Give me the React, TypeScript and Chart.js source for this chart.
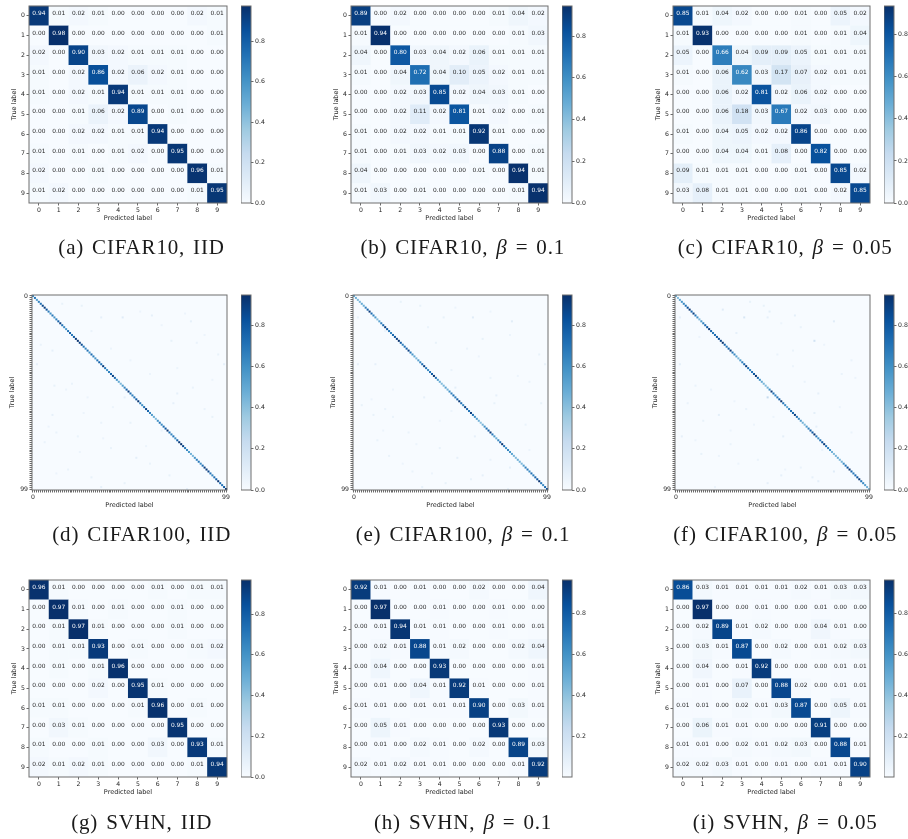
import React, { useEffect, useRef } from "react";
import { Chart, registerables } from "chart.js";

Chart.register(...registerables);

const LABELS_10 = ["0", "1", "2", "3", "4", "5", "6", "7", "8", "9"];
const LABELS_100 = Array.from({ length: 100 }, (_, i) => String(i));
const BAR_TICKS = [0, 0.2, 0.4, 0.6, 0.8];
const BLUES = ["#f7fbff", "#deebf7", "#c6dbef", "#9ecae1", "#6baed6", "#4292c6", "#2171b5", "#08519c", "#08306b"];

const CIFAR10_IID = [
  [0.94, 0.01, 0.02, 0.01, 0.0, 0.0, 0.0, 0.0, 0.02, 0.01],
  [0.0, 0.98, 0.0, 0.0, 0.0, 0.0, 0.0, 0.0, 0.0, 0.01],
  [0.02, 0.0, 0.9, 0.03, 0.02, 0.01, 0.01, 0.01, 0.0, 0.0],
  [0.01, 0.0, 0.02, 0.86, 0.02, 0.06, 0.02, 0.01, 0.0, 0.0],
  [0.01, 0.0, 0.02, 0.01, 0.94, 0.01, 0.01, 0.01, 0.0, 0.0],
  [0.0, 0.0, 0.01, 0.06, 0.02, 0.89, 0.0, 0.01, 0.0, 0.0],
  [0.0, 0.0, 0.02, 0.02, 0.01, 0.01, 0.94, 0.0, 0.0, 0.0],
  [0.01, 0.0, 0.01, 0.0, 0.01, 0.02, 0.0, 0.95, 0.0, 0.0],
  [0.02, 0.0, 0.0, 0.01, 0.0, 0.0, 0.0, 0.0, 0.96, 0.01],
  [0.01, 0.02, 0.0, 0.0, 0.0, 0.0, 0.0, 0.0, 0.01, 0.95],
];
const CIFAR10_B01 = [
  [0.89, 0.0, 0.02, 0.0, 0.0, 0.0, 0.0, 0.01, 0.04, 0.02],
  [0.01, 0.94, 0.0, 0.0, 0.0, 0.0, 0.0, 0.0, 0.01, 0.03],
  [0.04, 0.0, 0.8, 0.03, 0.04, 0.02, 0.06, 0.01, 0.01, 0.01],
  [0.01, 0.0, 0.04, 0.72, 0.04, 0.1, 0.05, 0.02, 0.01, 0.01],
  [0.0, 0.0, 0.02, 0.03, 0.85, 0.02, 0.04, 0.03, 0.01, 0.0],
  [0.0, 0.0, 0.02, 0.11, 0.02, 0.81, 0.01, 0.02, 0.0, 0.01],
  [0.01, 0.0, 0.02, 0.02, 0.01, 0.01, 0.92, 0.01, 0.0, 0.0],
  [0.01, 0.0, 0.01, 0.03, 0.02, 0.03, 0.0, 0.88, 0.0, 0.01],
  [0.04, 0.0, 0.0, 0.0, 0.0, 0.0, 0.01, 0.0, 0.94, 0.01],
  [0.01, 0.03, 0.0, 0.01, 0.0, 0.0, 0.0, 0.0, 0.01, 0.94],
];
const CIFAR10_B005 = [
  [0.85, 0.01, 0.04, 0.02, 0.0, 0.0, 0.01, 0.0, 0.05, 0.02],
  [0.01, 0.93, 0.0, 0.0, 0.0, 0.0, 0.01, 0.0, 0.01, 0.04],
  [0.05, 0.0, 0.66, 0.04, 0.09, 0.09, 0.05, 0.01, 0.01, 0.01],
  [0.01, 0.0, 0.06, 0.62, 0.03, 0.17, 0.07, 0.02, 0.01, 0.01],
  [0.0, 0.0, 0.06, 0.02, 0.81, 0.02, 0.06, 0.02, 0.0, 0.0],
  [0.0, 0.0, 0.06, 0.18, 0.03, 0.67, 0.02, 0.03, 0.0, 0.0],
  [0.01, 0.0, 0.04, 0.05, 0.02, 0.02, 0.86, 0.0, 0.0, 0.0],
  [0.0, 0.0, 0.04, 0.04, 0.01, 0.08, 0.0, 0.82, 0.0, 0.0],
  [0.09, 0.01, 0.01, 0.01, 0.0, 0.0, 0.01, 0.0, 0.85, 0.02],
  [0.03, 0.08, 0.01, 0.01, 0.0, 0.0, 0.01, 0.0, 0.02, 0.85],
];
const SVHN_IID = [
  [0.96, 0.01, 0.0, 0.0, 0.0, 0.0, 0.01, 0.0, 0.01, 0.01],
  [0.0, 0.97, 0.01, 0.0, 0.01, 0.0, 0.0, 0.01, 0.0, 0.0],
  [0.0, 0.01, 0.97, 0.01, 0.0, 0.0, 0.0, 0.01, 0.0, 0.0],
  [0.0, 0.01, 0.01, 0.93, 0.0, 0.01, 0.0, 0.0, 0.01, 0.02],
  [0.0, 0.01, 0.0, 0.01, 0.96, 0.0, 0.0, 0.0, 0.0, 0.0],
  [0.0, 0.0, 0.0, 0.02, 0.0, 0.95, 0.01, 0.0, 0.0, 0.0],
  [0.01, 0.01, 0.0, 0.0, 0.0, 0.01, 0.96, 0.0, 0.01, 0.0],
  [0.0, 0.03, 0.01, 0.0, 0.0, 0.0, 0.0, 0.95, 0.0, 0.0],
  [0.01, 0.0, 0.0, 0.01, 0.0, 0.0, 0.03, 0.0, 0.93, 0.01],
  [0.02, 0.01, 0.02, 0.01, 0.0, 0.0, 0.0, 0.0, 0.01, 0.94],
];
const SVHN_B01 = [
  [0.92, 0.01, 0.0, 0.01, 0.0, 0.0, 0.02, 0.0, 0.0, 0.04],
  [0.0, 0.97, 0.0, 0.0, 0.01, 0.0, 0.0, 0.01, 0.0, 0.0],
  [0.0, 0.01, 0.94, 0.01, 0.01, 0.0, 0.0, 0.01, 0.0, 0.01],
  [0.0, 0.02, 0.01, 0.88, 0.01, 0.02, 0.0, 0.0, 0.02, 0.04],
  [0.0, 0.04, 0.0, 0.0, 0.93, 0.0, 0.0, 0.0, 0.0, 0.01],
  [0.0, 0.01, 0.0, 0.04, 0.01, 0.92, 0.01, 0.0, 0.0, 0.01],
  [0.01, 0.01, 0.0, 0.01, 0.01, 0.01, 0.9, 0.0, 0.03, 0.01],
  [0.0, 0.05, 0.01, 0.0, 0.0, 0.0, 0.0, 0.93, 0.0, 0.0],
  [0.0, 0.01, 0.0, 0.02, 0.01, 0.0, 0.02, 0.0, 0.89, 0.03],
  [0.02, 0.01, 0.02, 0.01, 0.01, 0.0, 0.0, 0.0, 0.01, 0.92],
];
const SVHN_B005 = [
  [0.86, 0.03, 0.01, 0.01, 0.01, 0.01, 0.02, 0.01, 0.03, 0.03],
  [0.0, 0.97, 0.0, 0.0, 0.01, 0.0, 0.0, 0.01, 0.0, 0.0],
  [0.0, 0.02, 0.89, 0.01, 0.02, 0.0, 0.0, 0.04, 0.01, 0.0],
  [0.0, 0.03, 0.01, 0.87, 0.0, 0.02, 0.0, 0.01, 0.02, 0.03],
  [0.0, 0.04, 0.0, 0.01, 0.92, 0.0, 0.0, 0.0, 0.01, 0.01],
  [0.0, 0.01, 0.0, 0.07, 0.0, 0.88, 0.02, 0.0, 0.01, 0.01],
  [0.01, 0.01, 0.0, 0.02, 0.01, 0.03, 0.87, 0.0, 0.05, 0.01],
  [0.0, 0.06, 0.01, 0.01, 0.0, 0.0, 0.0, 0.91, 0.0, 0.0],
  [0.01, 0.01, 0.0, 0.02, 0.01, 0.02, 0.03, 0.0, 0.88, 0.01],
  [0.02, 0.02, 0.03, 0.01, 0.0, 0.01, 0.0, 0.01, 0.01, 0.9],
];

const CIFAR100_IID_DIAG = [
  0.62, 0.7, 0.55, 0.66, 0.72, 0.88, 0.9, 0.84, 0.68, 0.6,
  0.7, 0.58, 0.66, 0.78, 0.9, 0.72, 0.62, 0.56, 0.7, 0.76,
  0.68, 0.8, 0.92, 0.94, 0.9, 0.86, 0.7, 0.64, 0.72, 0.6,
  0.74, 0.66, 0.58, 0.7, 0.78, 0.72, 0.92, 0.7, 0.6, 0.66,
  0.76, 0.9, 0.74, 0.6, 0.5, 0.44, 0.56, 0.64, 0.78, 0.92,
  0.72, 0.66, 0.7, 0.8, 0.93, 0.68, 0.6, 0.72, 0.9, 0.76,
  0.64, 0.56, 0.48, 0.42, 0.6, 0.7, 0.62, 0.74, 0.82, 0.94,
  0.72, 0.64, 0.7, 0.6, 0.78, 0.92, 0.94, 0.88, 0.68, 0.62,
  0.56, 0.46, 0.44, 0.58, 0.66, 0.7, 0.62, 0.74, 0.9, 0.92,
  0.88, 0.7, 0.64, 0.72, 0.78, 0.93, 0.74, 0.7, 0.8, 0.94,
];
const CIFAR100_IID_OFF = [
  [11, 46, 0.11], [11, 35, 0.08], [5, 25, 0.07], [28, 10, 0.08], [4, 15, 0.07], [10, 61, 0.08], [13, 81, 0.08],
  [23, 71, 0.07], [35, 98, 0.08], [35, 2, 0.08], [61, 10, 0.08], [46, 11, 0.07], [50, 74, 0.08], [55, 72, 0.08],
  [52, 47, 0.08], [62, 92, 0.07], [65, 50, 0.07], [72, 23, 0.06], [83, 53, 0.09], [92, 70, 0.07], [98, 35, 0.08],
  [96, 47, 0.07], [99, 79, 0.08], [93, 30, 0.07], [75, 6, 0.06], [30, 95, 0.07], [25, 4, 0.06], [24, 84, 0.06],
  [65, 35, 0.06], [40, 60, 0.05], [18, 30, 0.06], [8, 55, 0.05], [45, 20, 0.06], [70, 12, 0.06], [78, 40, 0.06],
  [86, 60, 0.06], [58, 88, 0.06], [33, 50, 0.05], [47, 82, 0.06], [89, 18, 0.06], [69, 66, 0.06], [15, 66, 0.05],
  [48, 17, 0.05], [52, 28, 0.05], [67, 8, 0.05], [73, 36, 0.05], [80, 24, 0.05], [91, 12, 0.05], [57, 41, 0.05],
  [20, 88, 0.05], [37, 74, 0.05], [43, 92, 0.05], [9, 78, 0.05], [27, 40, 0.05], [60, 26, 0.05], [77, 58, 0.05],
];
const CIFAR100_B01_DIAG = [
  0.5, 0.46, 0.42, 0.44, 0.5, 0.48, 0.66, 0.78, 0.92, 0.74,
  0.64, 0.56, 0.42, 0.52, 0.66, 0.76, 0.9, 0.82, 0.7, 0.64,
  0.74, 0.82, 0.9, 0.94, 0.8, 0.66, 0.72, 0.78, 0.9, 0.7,
  0.58, 0.5, 0.44, 0.54, 0.64, 0.74, 0.9, 0.7, 0.62, 0.7,
  0.8, 0.94, 0.72, 0.56, 0.48, 0.42, 0.44, 0.52, 0.46, 0.6,
  0.66, 0.72, 0.68, 0.78, 0.92, 0.72, 0.64, 0.9, 0.76, 0.7,
  0.9, 0.72, 0.6, 0.54, 0.46, 0.4, 0.46, 0.6, 0.72, 0.8,
  0.92, 0.7, 0.56, 0.48, 0.62, 0.76, 0.94, 0.72, 0.6, 0.64,
  0.58, 0.52, 0.44, 0.42, 0.48, 0.46, 0.44, 0.54, 0.66, 0.7,
  0.62, 0.72, 0.66, 0.76, 0.82, 0.94, 0.7, 0.62, 0.74, 0.84,
];
const CIFAR100_B01_OFF = [
  [11, 61, 0.11], [13, 81, 0.1], [5, 34, 0.07], [11, 46, 0.07], [3, 24, 0.07], [11, 2, 0.07], [22, 66, 0.07],
  [35, 2, 0.08], [35, 11, 0.08], [30, 95, 0.07], [47, 52, 0.09], [52, 36, 0.08], [51, 73, 0.08], [55, 96, 0.07],
  [56, 4, 0.07], [61, 10, 0.07], [55, 72, 0.07], [72, 62, 0.08], [83, 53, 0.08], [92, 66, 0.08], [94, 60, 0.07],
  [98, 35, 0.08], [96, 47, 0.07], [99, 79, 0.07], [88, 80, 0.08], [35, 98, 0.07], [24, 42, 0.07], [70, 28, 0.06],
  [62, 20, 0.06], [78, 44, 0.07], [82, 18, 0.06], [42, 70, 0.06], [38, 50, 0.06], [16, 38, 0.06], [27, 58, 0.06],
  [66, 88, 0.06], [74, 12, 0.06], [90, 30, 0.06], [8, 70, 0.05], [44, 90, 0.06], [58, 16, 0.06], [84, 70, 0.06],
  [48, 20, 0.05], [53, 9, 0.05], [64, 44, 0.05], [76, 32, 0.05], [86, 25, 0.05], [69, 15, 0.05], [20, 80, 0.05],
  [31, 64, 0.05], [41, 84, 0.05], [6, 52, 0.05], [18, 16, 0.05], [59, 50, 0.05], [79, 90, 0.05], [91, 40, 0.05],
];
const CIFAR100_B005_DIAG = [
  0.48, 0.42, 0.5, 0.58, 0.64, 0.72, 0.84, 0.94, 0.76, 0.9,
  0.7, 0.6, 0.44, 0.56, 0.66, 0.74, 0.82, 0.92, 0.76, 0.68,
  0.72, 0.8, 0.84, 0.88, 0.94, 0.76, 0.68, 0.78, 0.92, 0.7,
  0.62, 0.52, 0.44, 0.56, 0.66, 0.76, 0.92, 0.72, 0.64, 0.7,
  0.82, 0.94, 0.74, 0.6, 0.5, 0.44, 0.42, 0.46, 0.62, 0.92,
  0.72, 0.66, 0.7, 0.8, 0.94, 0.7, 0.62, 0.5, 0.66, 0.72,
  0.76, 0.9, 0.72, 0.62, 0.54, 0.46, 0.42, 0.56, 0.66, 0.78,
  0.82, 0.94, 0.7, 0.6, 0.72, 0.82, 0.92, 0.72, 0.66, 0.58,
  0.46, 0.42, 0.44, 0.48, 0.44, 0.46, 0.62, 0.72, 0.84, 0.94,
  0.76, 0.68, 0.74, 0.82, 0.92, 0.7, 0.62, 0.54, 0.46, 0.42,
];
const CIFAR100_B005_OFF = [
  [23, 71, 0.18], [52, 47, 0.24], [11, 35, 0.15], [7, 24, 0.11], [8, 48, 0.09], [10, 61, 0.09], [13, 81, 0.11],
  [11, 2, 0.08], [35, 2, 0.09], [61, 22, 0.09], [60, 71, 0.09], [11, 47, 0.08], [19, 31, 0.08], [72, 55, 0.09],
  [90, 81, 0.11], [95, 73, 0.09], [92, 54, 0.08], [50, 73, 0.08], [96, 47, 0.08], [72, 3, 0.08], [81, 13, 0.07],
  [64, 14, 0.07], [5, 45, 0.07], [3, 38, 0.07], [93, 70, 0.08], [67, 72, 0.08], [28, 60, 0.06], [40, 85, 0.06],
  [46, 10, 0.06], [58, 36, 0.06], [76, 28, 0.06], [84, 42, 0.06], [70, 90, 0.06], [30, 52, 0.06], [16, 64, 0.06],
  [98, 20, 0.06], [33, 90, 0.06], [88, 64, 0.06], [44, 66, 0.06], [55, 6, 0.06], [21, 12, 0.05], [79, 75, 0.06],
  [48, 18, 0.05], [54, 30, 0.05], [66, 40, 0.05], [74, 10, 0.05], [86, 32, 0.05], [62, 50, 0.05], [25, 76, 0.05],
  [36, 60, 0.05], [42, 92, 0.05], [14, 54, 0.05], [82, 22, 0.05], [89, 56, 0.05], [57, 84, 0.05], [69, 28, 0.05],
];

type Cell = { x: string; y: string; v: number };

function matrixCells(matrix: number[][]): Cell[] {
  const cells: Cell[] = [];
  matrix.forEach((row, r) => row.forEach((v, c) => cells.push({ x: LABELS_10[c], y: LABELS_10[r], v })));
  return cells;
}
function sparseCells(diag: number[], off: number[][]): Cell[] {
  const cells: Cell[] = off.map(([r, c, v]) => ({ x: LABELS_100[c], y: LABELS_100[r], v }));
  diag.forEach((v, i) => cells.push({ x: LABELS_100[i], y: LABELS_100[i], v }));
  return cells;
}

function blues(t: number): string {
  const p = Math.max(0, Math.min(1, t)) * (BLUES.length - 1);
  const i = Math.min(BLUES.length - 2, Math.floor(p));
  const f = p - i;
  const rgb = (h: string) => [1, 3, 5].map((k) => parseInt(h.slice(k, k + 2), 16));
  const a = rgb(BLUES[i]);
  const b = rgb(BLUES[i + 1]);
  return `rgb(${a.map((u, k) => Math.round(u + (b[k] - u) * f)).join(",")})`;
}

const TEXT = "#1f1f1f";
const LINE = "#6e6e6e";
const FONT = "'DejaVu Sans'";

type PanelSpec = {
  cells: Cell[]; labels: string[]; annotate: boolean; x: number; y: number; w: number; h: number;
  axisW: number; barX: number; vmin: number; vmax: number; name: string; beta?: string; cx: number; cy: number;
};

const PANELS: PanelSpec[] = [
  { cells: matrixCells(CIFAR10_IID), labels: LABELS_10, annotate: true, x: 29, y: 6, w: 198, h: 197, axisW: 19, barX: 241, vmin: 0, vmax: 0.975, name: "(a) CIFAR10, IID", cx: 141.5, cy: 247 },
  { cells: matrixCells(CIFAR10_B01), labels: LABELS_10, annotate: true, x: 351, y: 6, w: 197, h: 197, axisW: 19, barX: 562, vmin: 0, vmax: 0.944, name: "(b) CIFAR10, ", beta: "0.1", cx: 462.7, cy: 247 },
  { cells: matrixCells(CIFAR10_B005), labels: LABELS_10, annotate: true, x: 673, y: 6, w: 197, h: 197, axisW: 19, barX: 884, vmin: 0, vmax: 0.936, name: "(c) CIFAR10, ", beta: "0.05", cx: 785.2, cy: 247 },
  { cells: sparseCells(CIFAR100_IID_DIAG, CIFAR100_IID_OFF), labels: LABELS_100, annotate: false, x: 32, y: 295, w: 195, h: 195, axisW: 24, barX: 241, vmin: 0, vmax: 0.948, name: "(d) CIFAR100, IID", cx: 141.7, cy: 534 },
  { cells: sparseCells(CIFAR100_B01_DIAG, CIFAR100_B01_OFF), labels: LABELS_100, annotate: false, x: 353, y: 295, w: 195, h: 195, axisW: 24, barX: 562, vmin: 0, vmax: 0.948, name: "(e) CIFAR100, ", beta: "0.1", cx: 463, cy: 534 },
  { cells: sparseCells(CIFAR100_B005_DIAG, CIFAR100_B005_OFF), labels: LABELS_100, annotate: false, x: 675, y: 295, w: 195, h: 195, axisW: 24, barX: 884, vmin: 0, vmax: 0.948, name: "(f) CIFAR100, ", beta: "0.05", cx: 785.2, cy: 534 },
  { cells: matrixCells(SVHN_IID), labels: LABELS_10, annotate: true, x: 29, y: 580, w: 198, h: 197, axisW: 19, barX: 241, vmin: 0, vmax: 0.968, name: "(g) SVHN, IID", cx: 141.7, cy: 821.7 },
  { cells: matrixCells(SVHN_B01), labels: LABELS_10, annotate: true, x: 351, y: 580, w: 197, h: 197, axisW: 19, barX: 562, vmin: 0.004, vmax: 0.962, name: "(h) SVHN, ", beta: "0.1", cx: 463, cy: 821.7 },
  { cells: matrixCells(SVHN_B005), labels: LABELS_10, annotate: true, x: 673, y: 580, w: 197, h: 197, axisW: 19, barX: 884, vmin: 0.004, vmax: 0.965, name: "(i) SVHN, ", beta: "0.05", cx: 785.2, cy: 821.7 },
];

const PAD_TOP = 6;
const PAD_RIGHT = 7;
const X_AXIS_H = 19;
const BAR_W = 10;
const BAR_AXIS_W = 22;

function framePlugin(): any {
  return {
    id: "frame",
    afterDatasetsDraw(chart: any) {
      const { ctx, chartArea: a } = chart;
      ctx.save();
      ctx.strokeStyle = LINE;
      ctx.lineWidth = 1;
      ctx.strokeRect(a.left, a.top, a.right - a.left, a.bottom - a.top);
      ctx.restore();
    },
  };
}

function MatrixChart({ p }: { p: PanelSpec }) {
  const ref = useRef<HTMLCanvasElement>(null);
  useEffect(() => {
    const n = p.labels.length;
    const thresh = (p.vmin + p.vmax) / 2;
    const tickCb = (_: any, i: number) => (n === 100 ? (i === 0 || i === 99 ? p.labels[i] : "") : p.labels[i]);
    const tickOpts = { autoSkip: false, maxRotation: 0, minRotation: 0, padding: 1.5, color: TEXT, font: { family: FONT, size: 6.2 }, callback: tickCb };
    const gridOpts = { display: true, drawOnChartArea: false, drawTicks: true, tickLength: 2.5, tickWidth: 0.8, tickColor: "#444" };
    const titleOpts = (text: string) => ({ display: true, text, color: TEXT, padding: 0, font: { family: FONT, size: 6.5 } });
    const chart = new Chart(ref.current as HTMLCanvasElement, {
      type: "scatter",
      data: {
        datasets: [{
          data: p.cells as any,
          pointStyle: "rect",
          borderWidth: 0,
          pointBorderWidth: 0,
          pointRadius: () => (p.w / n / Math.SQRT2) + 0.05,
          pointBackgroundColor: (c: any) => blues((c.raw.v - p.vmin) / (p.vmax - p.vmin)),
        } as any],
      },
      options: {
        animation: false,
        responsive: false,
        events: [],
        layout: { autoPadding: false, padding: { top: PAD_TOP, right: PAD_RIGHT, left: 0, bottom: 0 } },
        plugins: { legend: { display: false }, tooltip: { enabled: false } },
        scales: {
          x: {
            type: "category", labels: p.labels, offset: true, position: "bottom",
            ticks: tickOpts, grid: gridOpts, border: { display: false }, title: titleOpts("Predicted label"),
            afterFit: (s: any) => { s.height = X_AXIS_H; },
          },
          y: {
            type: "category", labels: p.labels, offset: true, position: "left",
            ticks: tickOpts, grid: gridOpts, border: { display: false }, title: titleOpts("True label"),
            afterFit: (s: any) => { s.width = p.axisW; },
          },
        },
      } as any,
      plugins: [
        {
          id: "plotBackground",
          beforeDatasetsDraw(c: any) {
            const a = c.chartArea;
            c.ctx.fillStyle = BLUES[0];
            c.ctx.fillRect(a.left, a.top, a.right - a.left, a.bottom - a.top);
          },
        },
        {
          id: "cellText",
          afterDatasetsDraw(c: any) {
            if (!p.annotate) return;
            const ctx = c.ctx;
            const pts = c.getDatasetMeta(0).data;
            ctx.save();
            ctx.font = `5.9px ${FONT}`;
            ctx.textAlign = "center";
            ctx.textBaseline = "middle";
            p.cells.forEach((cell, i) => {
              ctx.fillStyle = cell.v > thresh ? "#ffffff" : TEXT;
              ctx.fillText(cell.v.toFixed(2), pts[i].x, pts[i].y - 2.5);
            });
            ctx.restore();
          },
        },
        framePlugin(),
      ],
    });
    return () => chart.destroy();
  }, [p]);
  return (
    <canvas
      ref={ref}
      width={p.axisW + p.w + PAD_RIGHT}
      height={PAD_TOP + p.h + X_AXIS_H}
      style={{ position: "absolute", left: p.x - p.axisW, top: p.y - PAD_TOP, filter: "blur(0.45px)" }}
    />
  );
}

function ColorBar({ p }: { p: PanelSpec }) {
  const ref = useRef<HTMLCanvasElement>(null);
  useEffect(() => {
    const chart = new Chart(ref.current as HTMLCanvasElement, {
      type: "bar",
      data: {
        labels: ["scale"],
        datasets: [{
          data: [[p.vmin, p.vmax]],
          barPercentage: 1,
          categoryPercentage: 1,
          backgroundColor: (c: any) => {
            const a = c.chart.chartArea;
            if (!a) return BLUES[0];
            const g = c.chart.ctx.createLinearGradient(0, a.bottom, 0, a.top);
            BLUES.forEach((col, i) => g.addColorStop(i / (BLUES.length - 1), col));
            return g;
          },
        } as any],
      },
      options: {
        animation: false,
        responsive: false,
        events: [],
        layout: { autoPadding: false, padding: { top: PAD_TOP, bottom: PAD_TOP, left: 0, right: 0 } },
        plugins: { legend: { display: false }, tooltip: { enabled: false } },
        scales: {
          x: { type: "category", display: false },
          y: {
            type: "linear", position: "right", min: p.vmin, max: p.vmax,
            afterBuildTicks: (s: any) => { s.ticks = BAR_TICKS.filter((t) => t >= p.vmin && t <= p.vmax).map((value) => ({ value })); },
            ticks: { padding: 1.5, color: TEXT, font: { family: FONT, size: 6.2 }, callback: (v: any) => Number(v).toFixed(1) },
            grid: { display: true, drawOnChartArea: false, drawTicks: true, tickLength: 2.5, tickWidth: 0.8, tickColor: "#444" },
            border: { display: false },
            afterFit: (s: any) => { s.width = BAR_AXIS_W; },
          },
        },
      } as any,
      plugins: [framePlugin()],
    });
    return () => chart.destroy();
  }, [p]);
  return (
    <canvas
      ref={ref}
      width={BAR_W + BAR_AXIS_W}
      height={p.h + 2 * PAD_TOP}
      style={{ position: "absolute", left: p.barX, top: p.y - PAD_TOP, filter: "blur(0.45px)" }}
    />
  );
}

function Caption({ p }: { p: PanelSpec }) {
  return (
    <div
      style={{
        position: "absolute", left: p.cx - 150, width: 300, top: p.cy - 12, height: 24, lineHeight: "24px",
        textAlign: "center", whiteSpace: "pre", fontFamily: "'Liberation Serif'", fontSize: 21,
        letterSpacing: 0.8, wordSpacing: 2, color: "#1a1a1a", filter: "blur(0.3px)",
      }}
    >
      {p.name}
      {p.beta ? (
        <>
          <i>β</i> = {p.beta}
        </>
      ) : null}
    </div>
  );
}

export default function App() {
  return (
    <div style={{ position: "absolute", left: 0, top: 0, width: 908, height: 839, background: "#fff", overflow: "hidden" }}>
      {PANELS.map((p) => (
        <React.Fragment key={p.name + p.cy}>
          <MatrixChart p={p} />
          <ColorBar p={p} />
          <Caption p={p} />
        </React.Fragment>
      ))}
    </div>
  );
}
